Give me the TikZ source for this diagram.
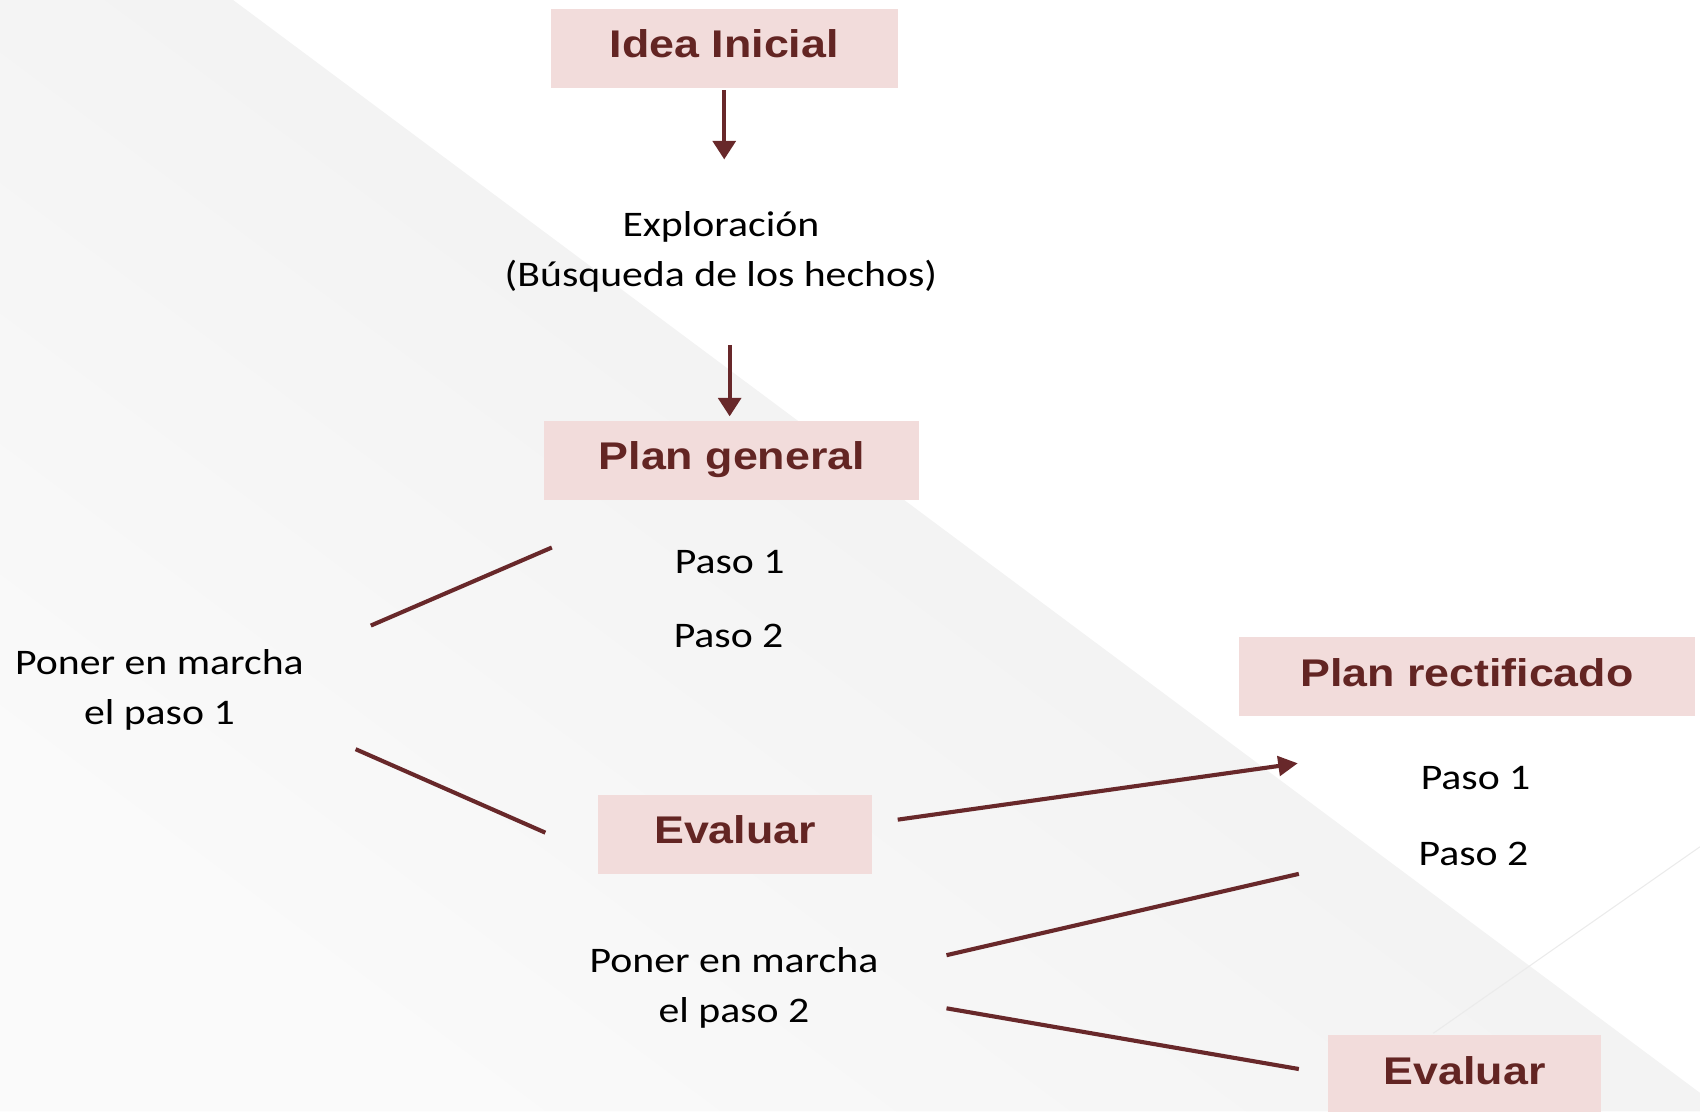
\documentclass[tikz,border=0pt]{standalone}
\usepackage{fontspec}
\usepackage{graphicx}
\setmainfont{Carlito}
\newfontfamily\boldsans{Liberation Sans}
\usetikzlibrary{arrows.meta}
\definecolor{boxfill}{HTML}{F2DCDB}
\definecolor{boxtext}{HTML}{632523}
\definecolor{linec}{HTML}{68282A}
\definecolor{bgdark}{HTML}{EDEDED}
\definecolor{bglight}{HTML}{FAFAFA}
\definecolor{faint}{HTML}{EBEBEB}
\newcommand{\wideb}[1]{\scalebox{1.16}[1]{#1}}
\newcommand{\titletext}[1]{\raisebox{-4.37bp}[0pt][0pt]{\scalebox{1.16}[1]{#1}}}
\begin{document}
\begin{tikzpicture}[x=0.5bp,y=-0.5bp,
  titlebox/.style={fill=boxfill, draw=none, inner sep=0pt, minimum height=36.5bp,
    font=\boldsans\bfseries\fontsize{17.8bp}{20bp}\selectfont, text=boxtext},
  plain/.style={inner sep=0pt, align=center, font=\fontsize{16.6bp}{23bp}\selectfont, text=black},
  conn/.style={draw=linec, line width=1.9bp},
  arr/.style={draw=linec, line width=1.7bp, -{Triangle[length=8.5bp,width=10.5bp]}},
  bigarr/.style={draw=linec, line width=1.9bp, -{Triangle[length=9bp,width=9bp]}}
]
\useasboundingbox (0,0) rectangle (1568,1025);
\clip (0,0) rectangle (1568,1025);
% background
\shade[top color=bgdark, bottom color=bglight, shading angle=-36.7] (0,0) -- (215,0) -- (1568,1008) -- (1568,1025) -- (0,1025) -- cycle;
\draw[faint, line width=0.5bp] (1322,953) -- (1568,781);

% boxes
\node[titlebox, minimum width=160bp] (idea) at (668,44.5) {\titletext{Idea Inicial}};
\node[titlebox, minimum width=173bp] (plang) at (675,424.5) {\titletext{Plan general}};
\node[titlebox, minimum width=210bp] (planr) at (1353,624) {\titletext{Plan rectificado}};
\node[titlebox, minimum width=126bp] (eval1) at (678,769.5) {\titletext{Evaluar}};
\node[titlebox, minimum width=126bp] (eval2) at (1351,991.5) {\titletext{Evaluar}};

% plain texts
\node[plain] (expl) at (665,232) {\wideb{Exploración}\\\wideb{(Búsqueda de los hechos)}};
\node[plain] (p1) at (673,518) {\wideb{Paso 1}};
\node[plain] (p2) at (672,587) {\wideb{Paso 2}};
\node[plain] (pm1) at (147,636) {\wideb{Poner en marcha}\\\wideb{el paso 1}};
\node[plain] (rp1) at (1361,718) {\wideb{Paso 1}};
\node[plain] (rp2) at (1359,788) {\wideb{Paso 2}};
\node[plain] (pm2) at (677,911) {\wideb{Poner en marcha}\\\wideb{el paso 2}};

% connector end points
\coordinate (a1e) at (668,147);
\coordinate (a2s) at (673,318);
\coordinate (a2e) at (673,384);
\coordinate (l1a) at (342,577);
\coordinate (l1b) at (509,505);
\coordinate (l2a) at (328,691);
\coordinate (l2b) at (503,768);
\coordinate (a3s) at (828,756);
\coordinate (a3e) at (1197,704);
\coordinate (l3a) at (873,881);
\coordinate (l3b) at (1198,806);
\coordinate (l4a) at (873,930);
\coordinate (l4b) at (1198,986);

\draw[arr] (idea.south) ++(0,2) -- (a1e);
\draw[arr] (a2s) -- (a2e);
\draw[conn] (l1a) -- (l1b);
\draw[conn] (l2a) -- (l2b);
\draw[bigarr] (a3s) -- (a3e);
\draw[conn] (l3a) -- (l3b);
\draw[conn] (l4a) -- (l4b);
\end{tikzpicture}
\end{document}
